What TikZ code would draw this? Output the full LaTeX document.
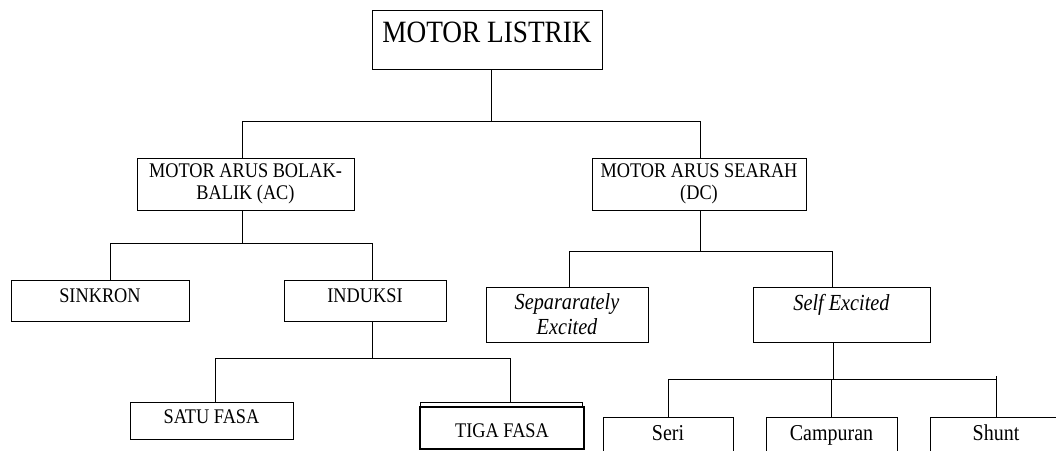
\documentclass[tikz,border=0pt]{standalone}
\usepackage{fontspec}
\setmainfont[FakeStretch=0.88]{Liberation Serif}
\usepackage{tikz}

\begin{document}
\begin{tikzpicture}[x=1pt, y=-1pt, line width=0.8pt, every node/.style={draw, inner sep=0pt, outer sep=0pt, font=\fontsize{20.8}{22}\selectfont}]
\useasboundingbox (0,0) rectangle (1056,450);

\node[minimum width=230, minimum height=59, text height=32, text depth=27, font=\fontsize{31}{34}\selectfont] (listrik) at (487,39.5) {MOTOR LISTRIK};

\node[minimum width=217, minimum height=52, align=center] (ac) at (245.5,184) {MOTOR ARUS BOLAK-\\BALIK (AC)};
\node[minimum width=214, minimum height=52, align=center] (dc) at (699,184) {MOTOR ARUS SEARAH\\(DC)};

\node[minimum width=178, minimum height=41, text height=22, text depth=19] (sinkron) at (100,300.5) {SINKRON};
\node[minimum width=162, minimum height=41, text height=22, text depth=19] (induksi) at (365,300.5) {INDUKSI};

\node[minimum width=163, minimum height=37, text height=21, text depth=16] (satu) at (211.5,420.5) {SATU FASA};
\draw[line width=0.6pt] (420,407) -- (420,402) -- (582,402) -- (582,407);
\node[minimum width=164, minimum height=42, text height=30, text depth=12, line width=2pt] (tiga) at (502,428) {TIGA FASA};

\node[minimum width=162, minimum height=55, align=center, font=\fontsize{23}{25}\selectfont\itshape] (separately) at (567,314.5) {Separarately\\Excited};
\node[minimum width=177, minimum height=55, text height=23, text depth=32, font=\fontsize{23}{25}\selectfont\itshape] (self) at (841.5,314.5) {Self Excited};

\node[minimum width=130, minimum height=35, text height=23, text depth=12, font=\fontsize{22.7}{25}\selectfont] (seri) at (668,434.5) {Seri};
\node[minimum width=131, minimum height=35, text height=23, text depth=12, font=\fontsize{22.7}{25}\selectfont] (campuran) at (831.5,434.5) {Campuran};
\node[minimum width=132, minimum height=35, text height=23, text depth=12, font=\fontsize{22.7}{25}\selectfont] (shunt) at (996,434.5) {Shunt};

\draw ([xshift=4pt]listrik.south) -- ++(0,52) coordinate (jlistrik);
\draw (jlistrik) -| ([xshift=-3.5pt]ac.north);
\draw (jlistrik) -| ([xshift=1pt]dc.north);

\draw ([xshift=-3.5pt]ac.south) -- ++(0,33) coordinate (jac);
\draw (jac) -| ([xshift=10pt]sinkron.north);
\draw (jac) -| ([xshift=7pt]induksi.north);

\draw ([xshift=7pt]induksi.south) -- ++(0,37) coordinate (jinduksi);
\draw (jinduksi) -| ([xshift=3.5pt]satu.north);
\draw (jinduksi) -| ([xshift=8pt,yshift=5pt]tiga.north);

\draw ([xshift=1pt]dc.south) -- ++(0,41) coordinate (jdc);
\draw (jdc) -| ([xshift=2pt]separately.north);
\draw (jdc) -| ([xshift=-9.5pt]self.north);

\draw ([xshift=-8.5pt]self.south) -- ++(0,37) coordinate (jself);
\draw (jself) -| (seri.north);
\draw (jself) -| (campuran.north);
\draw (jself) -| (shunt.north);
\draw (shunt.north) -- ++(0,-41);
\end{tikzpicture}
\end{document}
